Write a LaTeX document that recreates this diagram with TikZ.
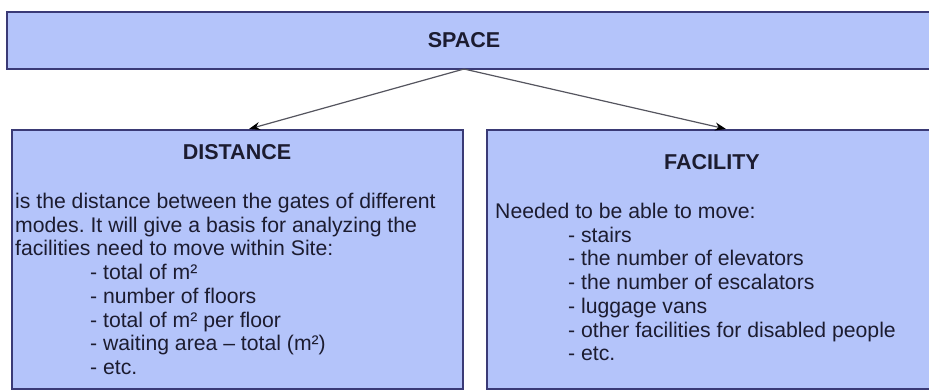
\documentclass[tikz,border=0pt]{standalone}
\usepackage{fontspec}
\setmainfont{Liberation Sans}
\usetikzlibrary{positioning, arrows.meta}
\definecolor{boxfill}{RGB}{180,196,250}
\definecolor{boxline}{RGB}{58,58,118}
\definecolor{inktext}{RGB}{28,28,48}
\definecolor{linkgray}{RGB}{85,85,95}
\frenchspacing

\begin{document}
\begin{tikzpicture}[
                    x=1pt, y=-1pt,
                    font=\fontsize{21.2}{23.7}\selectfont,
                    >={Stealth[length=11pt, width=8pt, color=black]},
                    panel/.style={draw=boxline, line width=2pt, fill=boxfill, inner sep=0pt},
                    heading/.style={font=\fontsize{21.5}{24}\selectfont\bfseries, text=inktext},
                    bodytext/.style={align=left, inner sep=0pt, text=inktext, anchor=north west}
                ]
                    \clip (0,0) rectangle (929,390);
                    \fill[white] (0,0) rectangle (929,390);
                    % boxes
                    \node[panel, minimum width=928pt, minimum height=57pt] (space) at (471,40.5) {};
                    \node[panel, minimum width=451pt, minimum height=259pt] (distance) at (237.5,259.5) {};
                    \node[panel, minimum width=453pt, minimum height=259pt] (facility) at (713.5,259.5) {};
                    % titles
                    \node[heading] (spacetitle) at (464,40) {SPACE};
                    \node[heading] (disttitle) at (237,152) {DISTANCE};
                    \node[heading] (factitle) at (712,162) {FACILITY};
                    % texts
                    \node[bodytext] (distbody) at (15,193) {is the distance between the gates of different\\
                        modes. It will give a basis for analyzing the\\
                        facilities need to move within Site:\\
                        \hspace*{75pt}- total of m²\\
                        \hspace*{75pt}- number of floors\\
                        \hspace*{75pt}- total of m² per floor\\
                        \hspace*{75pt}- waiting area – total (m²)\\
                        \hspace*{75pt}- etc.};
                    \node[bodytext] (facbody) at (495,203) {Needed to be able to move:\\
                        \hspace*{73pt}- stairs\\
                        \hspace*{73pt}- the number of elevators\\
                        \hspace*{73pt}- the number of escalators\\
                        \hspace*{73pt}- luggage vans\\
                        \hspace*{73pt}- other facilities for disabled people\\
                        \hspace*{73pt}- etc.};
                    % links
                    \coordinate (fork) at (464,69);
                    \path (distance.north west) ++(238,0) coordinate (distin);
                    \path (facility.north west) ++(240,0) coordinate (facin);
                    \draw[->, draw=linkgray, line width=1.2pt] (fork) -- (distin);
                    \draw[->, draw=linkgray, line width=1.2pt] (fork) -- (facin);
                \end{tikzpicture}
\end{document}
